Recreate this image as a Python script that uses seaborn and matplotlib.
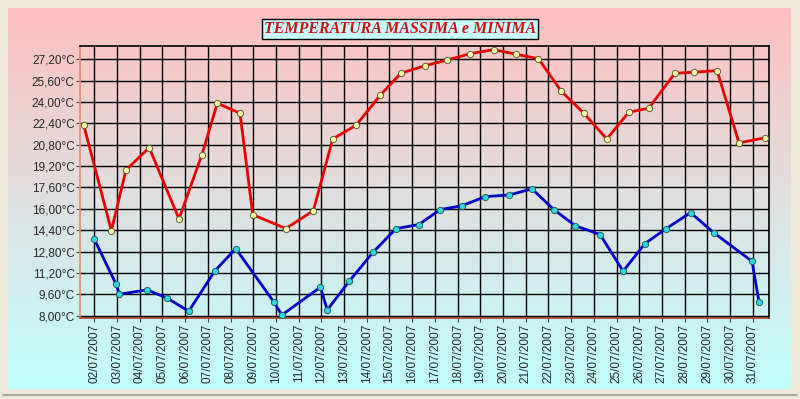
import numpy as np
import pandas as pd
import matplotlib
matplotlib.use("Agg")
import matplotlib.pyplot as plt
import matplotlib.dates as mdates
from matplotlib.ticker import FuncFormatter
import seaborn as sns

# ---------- DATA ----------
max_times = [
    "2007-07-01 12:45", "2007-07-02 18:00", "2007-07-03 09:30", "2007-07-04 10:00",
    "2007-07-05 17:30", "2007-07-06 17:45", "2007-07-07 10:00", "2007-07-08 10:00",
    "2007-07-08 23:30", "2007-07-10 10:30", "2007-07-11 15:30", "2007-07-12 12:00",
    "2007-07-13 12:45", "2007-07-14 14:10", "2007-07-15 12:00", "2007-07-16 13:40",
    "2007-07-17 12:30", "2007-07-18 13:30", "2007-07-19 14:10", "2007-07-20 14:10",
    "2007-07-21 13:30", "2007-07-22 13:40", "2007-07-23 13:30", "2007-07-24 13:40",
    "2007-07-25 13:00", "2007-07-26 10:00", "2007-07-27 13:40", "2007-07-28 10:20",
    "2007-07-29 10:20", "2007-07-30 09:30", "2007-07-31 13:10",
]
max_temps = [
    22.28, 14.37, 18.91, 20.58, 15.24, 20.06, 23.91, 23.16, 15.56, 14.52, 15.86,
    21.23, 22.26, 24.50, 26.15, 26.72, 27.13, 27.62, 27.92, 27.57, 27.24, 24.80,
    23.16, 21.23, 23.23, 23.53, 26.15, 26.23, 26.35, 20.93, 21.33,
]

min_times = [
    "2007-07-02 00:00", "2007-07-02 23:00", "2007-07-03 02:30", "2007-07-04 07:40",
    "2007-07-05 05:20", "2007-07-06 03:50", "2007-07-07 07:10", "2007-07-08 05:30",
    "2007-07-09 21:40", "2007-07-10 06:15", "2007-07-11 23:00", "2007-07-12 06:15",
    "2007-07-13 05:30", "2007-07-14 06:40", "2007-07-15 07:00", "2007-07-16 07:00",
    "2007-07-17 05:45", "2007-07-18 05:00", "2007-07-19 05:15", "2007-07-20 06:40",
    "2007-07-21 06:40", "2007-07-22 05:45", "2007-07-23 04:20", "2007-07-24 06:40",
    "2007-07-25 07:00", "2007-07-26 06:00", "2007-07-27 04:30", "2007-07-28 06:15",
    "2007-07-29 07:30", "2007-07-30 23:15", "2007-07-31 06:40",
]
min_temps = [
    13.72, 10.35, 9.60, 9.93, 9.30, 8.33, 11.33, 13.02, 9.03, 8.05, 10.13,
    8.43, 10.58, 12.75, 14.52, 14.82, 15.94, 16.24, 16.91, 17.04, 17.49, 15.94,
    14.74, 14.07, 11.33, 13.39, 14.52, 15.71, 14.17, 12.07, 9.00,
]

day_ticks = pd.date_range("2007-07-02", "2007-07-31", freq="D")
temp_ticks = [8.0, 9.6, 11.2, 12.8, 14.4, 16.0, 17.6, 19.2, 20.8, 22.4, 24.0, 25.6, 27.2]

TITLE = "TEMPERATURA MASSIMA e MINIMA"

# ---------- STYLE ----------
sns.set_theme(style="white")
plt.rcParams["font.family"] = ["Liberation Sans", "DejaVu Sans"]

df_max = pd.DataFrame({"time": pd.to_datetime(max_times), "temp": max_temps})
df_min = pd.DataFrame({"time": pd.to_datetime(min_times), "temp": min_temps})

W, H = 800, 399
fig = plt.figure(figsize=(W / 100, H / 100), dpi=100)
fig.patch.set_facecolor("#ECE9D8")

# gradient background panel (pink -> light cyan)
bg = fig.add_axes([8 / W, 1 - 389 / H, 783 / W, 381 / H])
top_c = np.array([255, 192, 192]) / 255
bot_c = np.array([192, 255, 255]) / 255
t = np.linspace(0, 1, 256)[:, None]
grad = (top_c[None, :] * (1 - t) + bot_c[None, :] * t)[:, None, :]
bg.imshow(grad, aspect="auto", extent=[0, 1, 0, 1])
bg.set_axis_off()
fig.add_artist(plt.Line2D([3 / W, 797 / W], [1 - 395 / H, 1 - 395 / H],
                          color="#A8A8A0", lw=1.5))

ax = fig.add_axes([80.3 / W, 1 - 318.3 / H, 689 / W, 272 / H])
ax.set_facecolor("none")

sns.lineplot(data=df_max, x="time", y="temp", ax=ax, color="#E80000", lw=2,
             marker="o", markersize=4.5, markerfacecolor="#FFFFB0",
             markeredgecolor="#606030", markeredgewidth=0.7, zorder=4)
sns.lineplot(data=df_min, x="time", y="temp", ax=ax, color="#0000C8", lw=2,
             marker="o", markersize=4.5, markerfacecolor="#30D8E0",
             markeredgecolor="#206060", markeredgewidth=0.7, zorder=4)

ax.set_xlim(pd.Timestamp("2007-07-01 09:10"), pd.Timestamp("2007-07-31 17:30"))
ax.set_ylim(7.8, 28.17)

ax.set_xticks(day_ticks)
ax.xaxis.set_major_formatter(mdates.DateFormatter("%d/%m/%Y"))
ax.set_yticks(temp_ticks)
ax.yaxis.set_major_formatter(FuncFormatter(lambda v, p: f"{v:.2f}".replace(".", ",") + "°C"))

ax.tick_params(axis="x", rotation=90, labelsize=8.5, direction="out", length=3,
               width=0.8, color="#404040", pad=1, bottom=True)
ax.tick_params(axis="y", labelsize=8.5, direction="out", length=3,
               width=0.8, color="#404040", pad=1, left=True)

ax.grid(True, color="black", lw=1)
ax.set_axisbelow(True)
ax.set_xlabel("")
ax.set_ylabel("")

ax.spines["top"].set_color("black")
ax.spines["right"].set_color("black")
ax.spines["left"].set_color("#E88A68")
ax.spines["bottom"].set_color("#A83A20")
for s in ax.spines.values():
    s.set_linewidth(1.2)

fig.text(400 / W, 1 - 29 / H, TITLE, ha="center", va="center", fontsize=11.5,
         family=["Liberation Serif", "DejaVu Serif"], style="italic", weight="bold",
         color="#D01010",
         bbox=dict(boxstyle="square,pad=0.12", facecolor="#C8FFFF",
                   edgecolor="black", lw=1))

fig.savefig("out.png", dpi=100, facecolor=fig.get_facecolor())
